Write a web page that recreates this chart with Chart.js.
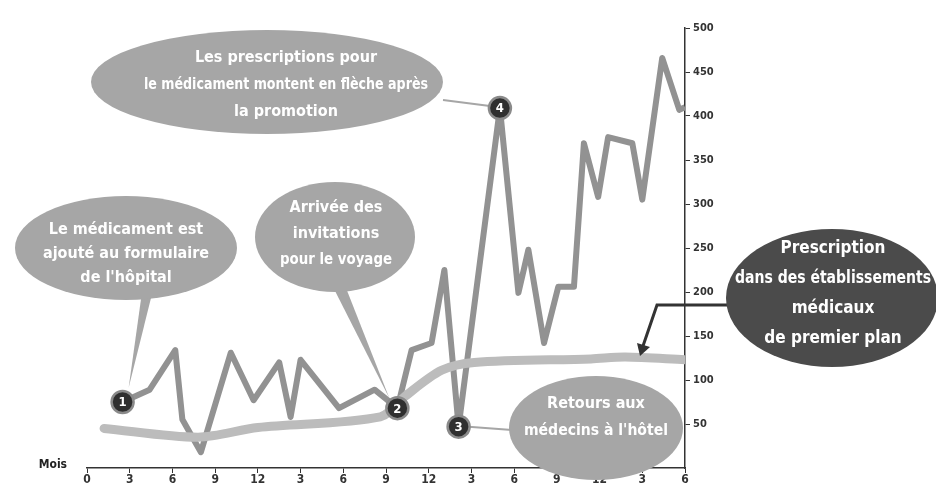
<!DOCTYPE html>
<html>
<head>
<meta charset="utf-8">
<script src="https://cdn.jsdelivr.net/npm/chart.js@4.4.1/dist/chart.umd.min.js"></script>
<style>
  html, body { margin: 0; padding: 0; background: #ffffff; }
  #wrap { position: relative; width: 936px; height: 489px; }
  canvas { display: block; }
</style>
</head>
<body>
<div id="wrap"><canvas id="c" width="936" height="489"></canvas></div>
<script>
// ---- Data ----
const monthTicks = [0, 3, 6, 9, 12, 15, 18, 21, 24, 27, 30, 33, 36, 39, 42];
const tickLabels = ["0", "3", "6", "9", "12", "3", "6", "9", "12", "3", "6", "9", "12", "3", "6"];
const valueTicks = [50, 100, 150, 200, 250, 300, 350, 400, 450, 500];

const rxMonths = [2.5, 4.4, 6.2, 6.7, 8.0, 10.1, 11.7, 13.5, 14.3, 15.0, 17.7, 20.2, 21.8, 22.8, 24.2, 25.1, 26.1, 29.0, 30.3, 31.0, 32.1, 33.1, 34.2, 34.9, 35.9, 36.6, 38.3, 39.0, 40.4, 41.6, 42.0];
const prescriptions = [75, 89, 134, 55, 18, 131, 77, 120, 58, 123, 68, 89, 68, 134, 142, 225, 47, 409, 199, 248, 142, 206, 206, 369, 308, 376, 369, 305, 466, 407, 410];

const trendMonths = [1.2, 7.8, 12.0, 20.6, 22.3, 24.9, 27.2, 35.4, 37.8, 42.0];
const trendValues = [45, 35, 46, 58, 81, 111, 120, 124, 126, 123];

const markerIndex = [0, 12, 16, 17];
const markerLabels = ["1", "2", "3", "4"];

const bubbleTexts = {
  promo: ["Les prescriptions pour", "le médicament montent en flèche après", "la promotion"],
  formulary: ["Le médicament est", "ajouté au formulaire", "de l'hôpital"],
  invites: ["Arrivée des", "invitations", "pour le voyage"],
  hotel: ["Retours aux", "médecins à l'hôtel"],
  leading: ["Prescription", "dans des établissements", "médicaux", "de premier plan"]
};
const axisTitle = "Mois";

// ---- Drawing ----
const FONT = "'Liberation Sans Narrow', 'DejaVu Sans Condensed', 'Liberation Sans', sans-serif";
const BUBBLE = '#a6a6a6';
const DARK = '#4b4b4b';

function ellipse(ctx, cx, cy, rx, ry, fill) {
  ctx.beginPath();
  ctx.ellipse(cx, cy, rx, ry, 0, 0, Math.PI * 2);
  ctx.fillStyle = fill;
  ctx.fill();
}
function wedge(ctx, x1, y1, x2, y2, tx, ty, fill) {
  ctx.beginPath();
  ctx.moveTo(x1, y1); ctx.lineTo(x2, y2); ctx.lineTo(tx, ty); ctx.closePath();
  ctx.fillStyle = fill; ctx.fill();
}
function lines(ctx, arr, cx, cy, size, gap, color, maxW) {
  ctx.fillStyle = color;
  ctx.textAlign = 'center';
  ctx.textBaseline = 'middle';
  ctx.font = 'bold ' + size + 'px ' + FONT;
  const start = cy - (arr.length - 1) * gap / 2;
  arr.forEach((t, i) => {
    ctx.save();
    const w = ctx.measureText(t).width;
    if (maxW && w > maxW) {
      ctx.translate(cx, start + i * gap);
      ctx.scale(maxW / w, 1);
      ctx.fillText(t, 0, 0);
    } else {
      ctx.fillText(t, cx, start + i * gap);
    }
    ctx.restore();
  });
}

const annotations = {
  id: 'annotations',
  afterDatasetsDraw(chart) {
    const ctx = chart.ctx;
    const xs = chart.scales.x, ys = chart.scales.y;
    const pts = chart.getDatasetMeta(1).data;
    const P = i => ({ x: pts[i].x, y: pts[i].y });
    const p1 = P(markerIndex[0]), p2 = P(markerIndex[1]), p3 = P(markerIndex[2]), p4 = P(markerIndex[3]);
    ctx.save();

    // "Mois" title at axis level
    ctx.fillStyle = '#222';
    ctx.font = 'bold 12px ' + FONT;
    ctx.textAlign = 'right';
    ctx.textBaseline = 'middle';
    ctx.fillText(axisTitle, xs.left - 20, ys.bottom - 3);

    // pointers
    ctx.strokeStyle = BUBBLE; ctx.lineWidth = 2;
    ctx.beginPath(); ctx.moveTo(443, 100); ctx.lineTo(p4.x - 10, p4.y - 2); ctx.stroke();
    ctx.beginPath(); ctx.moveTo(512, 430); ctx.lineTo(p3.x + 10, p3.y); ctx.stroke();
    wedge(ctx, 142, 292, 152, 294, p1.x + 6, p1.y - 14, BUBBLE);
    wedge(ctx, 332, 285, 346, 288, p2.x - 8, p2.y - 10, BUBBLE);

    // bubbles
    ellipse(ctx, 267, 82, 176, 52, BUBBLE);
    lines(ctx, bubbleTexts.promo, 286, 85, 16, 27, '#fff', 284);
    ellipse(ctx, 126, 248, 111, 52, BUBBLE);
    lines(ctx, bubbleTexts.formulary, 126, 254, 16, 24, '#fff', 166);
    ellipse(ctx, 335, 237, 80, 55, BUBBLE);
    lines(ctx, bubbleTexts.invites, 336, 234, 16, 26, '#fff', 112);
    ellipse(ctx, 596, 428, 87, 52, BUBBLE);
    lines(ctx, bubbleTexts.hotel, 596, 417, 16, 27, '#fff', 144);

    // dark bubble and arrow
    ctx.strokeStyle = '#333'; ctx.lineWidth = 3;
    ctx.beginPath(); ctx.moveTo(735, 305); ctx.lineTo(657, 305); ctx.lineTo(643, 346); ctx.stroke();
    ctx.beginPath(); ctx.moveTo(637, 343); ctx.lineTo(650, 347); ctx.lineTo(640, 356); ctx.closePath();
    ctx.fillStyle = '#333'; ctx.fill();
    ellipse(ctx, 832, 298, 106, 69, DARK);
    lines(ctx, bubbleTexts.leading, 833, 294, 17, 30, '#fff', 196);

    // numbered markers
    [p1, p2, p3, p4].forEach((p, i) => {
      ctx.beginPath();
      ctx.arc(p.x, p.y, 11, 0, Math.PI * 2);
      ctx.fillStyle = '#2f2f2f';
      ctx.fill();
      ctx.lineWidth = 2.5; ctx.strokeStyle = '#8a8a8a'; ctx.stroke();
      ctx.fillStyle = '#fff';
      ctx.font = 'bold 13px ' + FONT;
      ctx.textAlign = 'center'; ctx.textBaseline = 'middle';
      ctx.fillText(markerLabels[i], p.x, p.y + 1);
    });
    ctx.restore();
  }
};

const trendData = trendMonths.map((m, i) => ({ x: m, y: trendValues[i] }));
const rxData = rxMonths.map((m, i) => ({ x: m, y: prescriptions[i] }));

new Chart(document.getElementById('c'), {
  type: 'line',
  data: {
    datasets: [
      { data: trendData, borderColor: '#bcbcbc', borderWidth: 9, pointRadius: 0, tension: 0.3, borderCapStyle: 'round' },
      { data: rxData, borderColor: '#929292', borderWidth: 6, pointRadius: 0, tension: 0, borderJoinStyle: 'round' }
    ]
  },
  options: {
    responsive: false,
    animation: false,
    events: [],
    layout: { padding: { left: 87, top: 28, right: 0, bottom: 0 } },
    plugins: { legend: { display: false }, tooltip: { enabled: false } },
    scales: {
      x: {
        type: 'linear', min: 0, max: 42,
        afterBuildTicks: s => { s.ticks = monthTicks.map(v => ({ value: v })); },
        afterFit: s => { s.height = 21; },
        ticks: {
          autoSkip: false, maxRotation: 0, padding: 0, color: '#333',
          font: { family: FONT, size: 12, weight: 'bold' },
          callback: (v, i) => tickLabels[i]
        },
        grid: { drawOnChartArea: false, tickLength: 5, color: '#333', lineWidth: 1 },
        border: { color: '#333', width: 1.5 }
      },
      y: {
        position: 'right', min: 0, max: 500,
        afterBuildTicks: s => { s.ticks = valueTicks.map(v => ({ value: v })); },
        afterFit: s => { s.width = 936 - 685; },
        ticks: {
          padding: 3, color: '#333',
          font: { family: FONT, size: 11, weight: 'bold' }
        },
        grid: { drawOnChartArea: false, tickLength: 5, color: '#333', lineWidth: 1 },
        border: { color: '#333', width: 1.5 }
      }
    }
  },
  plugins: [annotations]
});
</script>
</body>
</html>
